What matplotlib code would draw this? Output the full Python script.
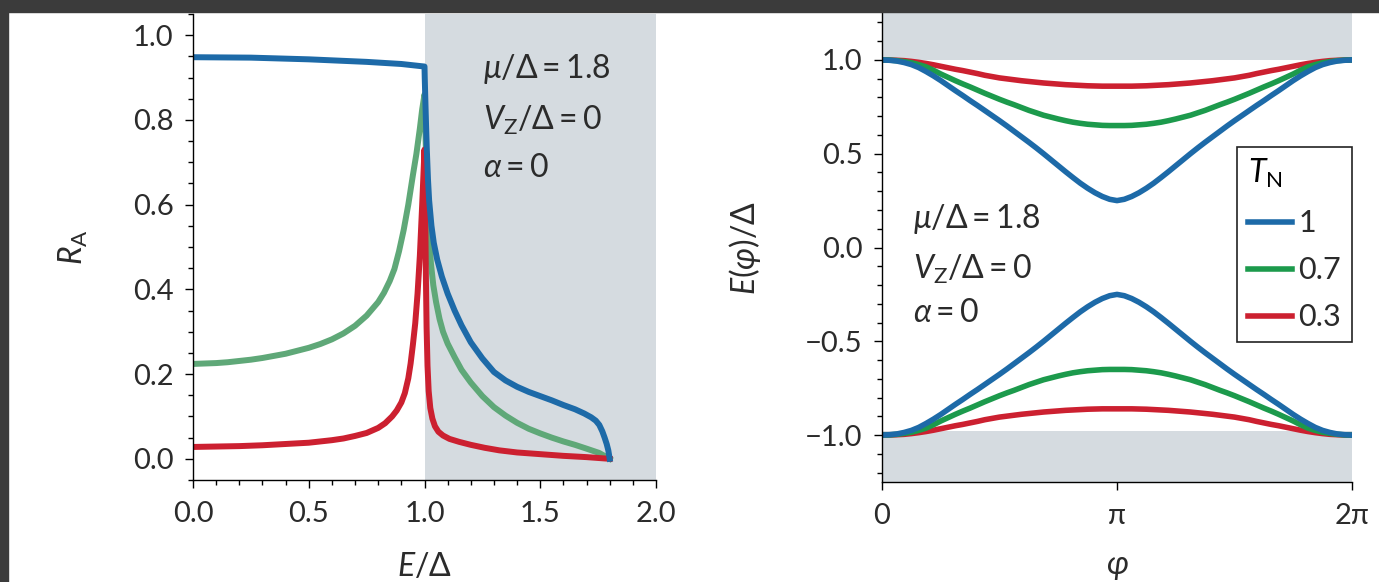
import matplotlib
matplotlib.use('Agg')
import matplotlib.pyplot as plt
from matplotlib.patches import Rectangle
from matplotlib.ticker import MultipleLocator
import numpy as np

plt.rcParams['font.family'] = ['Lato', 'DejaVu Sans']
plt.rcParams['mathtext.fontset'] = 'custom'
plt.rcParams['mathtext.rm'] = 'Lato'
plt.rcParams['mathtext.it'] = 'Lato:italic'
plt.rcParams['mathtext.bf'] = 'Lato:bold'
plt.rcParams['mathtext.fallback'] = 'stix'

# Andreev reflection probability R_A vs E/Delta
blue_E = [0.0, 0.25, 0.5, 0.75, 0.9, 1.0, 1.001, 1.003, 1.006, 1.01, 1.015, 1.02, 1.03, 1.04,
          1.055, 1.075, 1.1, 1.13, 1.16, 1.2, 1.25, 1.3, 1.35, 1.4, 1.45, 1.5, 1.55, 1.6,
          1.65, 1.69, 1.72, 1.74, 1.755, 1.768, 1.778, 1.787, 1.794, 1.8]
blue_RA = [0.948, 0.947, 0.943, 0.937, 0.932, 0.926, 0.90, 0.86, 0.80, 0.73, 0.66, 0.61, 0.55,
           0.51, 0.47, 0.43, 0.39, 0.35, 0.315, 0.275, 0.237, 0.205, 0.185, 0.17, 0.158,
           0.148, 0.138, 0.127, 0.117, 0.107, 0.098, 0.09, 0.08, 0.065, 0.05, 0.035, 0.02, 0.0]

green_E = [0.0, 0.05, 0.1, 0.15, 0.2, 0.25, 0.3, 0.35, 0.4, 0.45, 0.5, 0.55, 0.6, 0.65, 0.7,
           0.75, 0.8, 0.825, 0.85, 0.87, 0.89, 0.91, 0.93, 0.95, 0.965, 0.98, 0.99, 1.0,
           1.002, 1.005, 1.009, 1.014, 1.02, 1.028, 1.038, 1.05, 1.065, 1.08, 1.1, 1.13, 1.16,
           1.2, 1.25, 1.3, 1.35, 1.4, 1.45, 1.5, 1.55, 1.6, 1.65, 1.7, 1.754, 1.8]
green_RA = [0.224, 0.225, 0.226, 0.228, 0.231, 0.234, 0.238, 0.243, 0.248, 0.255, 0.262, 0.271,
            0.282, 0.296, 0.314, 0.338, 0.37, 0.392, 0.42, 0.448, 0.49, 0.54, 0.60, 0.67,
            0.72, 0.78, 0.825, 0.86, 0.82, 0.75, 0.67, 0.59, 0.52, 0.46, 0.41, 0.37, 0.33,
            0.30, 0.272, 0.24, 0.21, 0.18, 0.148, 0.122, 0.102, 0.085, 0.071, 0.06, 0.05,
            0.041, 0.033, 0.024, 0.014, 0.0]

red_E = [0.0, 0.1, 0.2, 0.3, 0.4, 0.5, 0.55, 0.6, 0.65, 0.7, 0.75, 0.8, 0.83, 0.86, 0.88, 0.9,
         0.915, 0.93, 0.94, 0.95, 0.96, 0.97, 0.98, 0.99, 1.0, 1.003, 1.006, 1.009, 1.013,
         1.018, 1.025, 1.034, 1.045, 1.06, 1.08, 1.108, 1.15, 1.2, 1.26, 1.323, 1.4, 1.5,
         1.6, 1.7, 1.8]
red_RA = [0.028, 0.029, 0.030, 0.032, 0.035, 0.038, 0.041, 0.044, 0.048, 0.054, 0.061, 0.073,
          0.084, 0.10, 0.114, 0.133, 0.155, 0.19, 0.225, 0.27, 0.32, 0.39, 0.48, 0.60, 0.73,
          0.58, 0.43, 0.31, 0.22, 0.16, 0.12, 0.095, 0.077, 0.064, 0.055, 0.047, 0.04, 0.033,
          0.026, 0.02, 0.015, 0.011, 0.007, 0.004, 0.0]

# Andreev bound state energies E(phi)/Delta for phi in [0, pi] (units of pi);
# the curves are symmetric about phi = pi
phi_half = [0.0, 0.03125, 0.0625, 0.09375, 0.125, 0.15625, 0.1875, 0.21875, 0.25, 0.28125,
            0.3125, 0.34375, 0.375, 0.40625, 0.4375, 0.46875, 0.5, 0.53125, 0.5625, 0.59375,
            0.625, 0.65625, 0.6875, 0.71875, 0.75, 0.78125, 0.8125, 0.84375, 0.875, 0.90625,
            0.9375, 0.96875, 1.0]
abs_T1 = [1.000, 0.998, 0.994, 0.986, 0.975, 0.959, 0.938, 0.915, 0.890, 0.863, 0.836, 0.810,
          0.783, 0.757, 0.730, 0.703, 0.676, 0.648, 0.619, 0.590, 0.561, 0.531, 0.500, 0.468,
          0.436, 0.404, 0.373, 0.343, 0.316, 0.292, 0.272, 0.257, 0.250]
abs_T07 = [1.000, 0.999, 0.996, 0.991, 0.985, 0.975, 0.963, 0.945, 0.925, 0.907, 0.889, 0.872,
           0.856, 0.839, 0.822, 0.806, 0.790, 0.775, 0.761, 0.746, 0.731, 0.718, 0.705, 0.695,
           0.685, 0.676, 0.668, 0.662, 0.657, 0.654, 0.651, 0.650, 0.650]
abs_T03 = [1.000, 0.9995, 0.998, 0.996, 0.992, 0.987, 0.981, 0.974, 0.966, 0.958, 0.950, 0.943,
           0.935, 0.927, 0.918, 0.911, 0.904, 0.899, 0.894, 0.889, 0.885, 0.881, 0.877, 0.874,
           0.871, 0.868, 0.866, 0.864, 0.862, 0.861, 0.860, 0.860, 0.860]
TN_labels = ['1', '0.7', '0.3']

params = [r'$\mu/\mathit{\Delta} = 1.8$', r'$V_\mathrm{Z}/\mathit{\Delta} = 0$', r'$\alpha = 0$']

c_blue = '#1d6aa8'
c_green_l = '#5fa878'
c_green = '#1c9a4c'
c_red = '#cc2030'
c_gray = '#d5dbe0'
c_text = '#2b2b2b'
fs = 21


def full_period(half):
    # mirror the 0..pi branch onto pi..2pi
    return list(half) + list(half[-2::-1])


def style_axes(ax):
    for s in ['top', 'right']:
        ax.spines[s].set_visible(False)
    for s in ['left', 'bottom']:
        ax.spines[s].set_linewidth(1.0)
    ax.tick_params(which='major', direction='out', length=6, width=1.0,
                   labelsize=fs, labelcolor=c_text)
    ax.tick_params(which='minor', direction='out', length=3.5, width=1.0)
    ax.tick_params(axis='x', pad=9)
    ax.tick_params(axis='y', pad=8)


fig = plt.figure(figsize=(13.79, 5.82), dpi=100)

# left panel
ax1 = fig.add_axes([193/1379, 102/582, 463/1379, 466/582])
ax1.axvspan(1.0, 2.0, color=c_gray, lw=0, zorder=0)
ax1.plot(green_E, green_RA, color=c_green_l, lw=4.3, solid_joinstyle='round')
ax1.plot(red_E, red_RA, color=c_red, lw=4.3, solid_joinstyle='round')
ax1.plot(blue_E, blue_RA, color=c_blue, lw=4.3, solid_joinstyle='round')
ax1.set_xlim(0, 2)
ax1.set_ylim(-0.05, 1.05)
ax1.xaxis.set_major_locator(MultipleLocator(0.5))
ax1.xaxis.set_minor_locator(MultipleLocator(0.1))
ax1.yaxis.set_major_locator(MultipleLocator(0.2))
ax1.yaxis.set_minor_locator(MultipleLocator(0.05))
style_axes(ax1)
ax1.set_xlabel(r'$E/\mathit{\Delta}$', fontsize=fs + 2, color=c_text)
ax1.set_ylabel(r'$R_\mathrm{A}$', fontsize=fs + 2, color=c_text)
ax1.xaxis.set_label_coords(0.5, -0.155)
ax1.yaxis.set_label_coords(-0.222, 0.5)
for txt, yy in zip(params, [0.863, 0.751, 0.650]):
    ax1.text(0.626, yy, txt, transform=ax1.transAxes, fontsize=fs + 2,
             color=c_text, va='baseline', ha='left')

# right panel
ax2 = fig.add_axes([882/1379, 100/582, 470/1379, 469/582])
phi = np.array(phi_half + [2 - p for p in phi_half[-2::-1]]) * np.pi
ax2.axhspan(1.0, 1.25, color=c_gray, lw=0, zorder=0)
ax2.axhspan(-1.25, -0.98, color=c_gray, lw=0, zorder=0)
lines = []
for half, col, lab in zip([abs_T03, abs_T07, abs_T1], [c_red, c_green, c_blue],
                          TN_labels[::-1]):
    vals = np.array(full_period(half))
    ln, = ax2.plot(phi, vals, color=col, lw=4.0, label=lab)
    ax2.plot(phi, -vals, color=col, lw=4.0)
    lines.append(ln)
ax2.set_xlim(0, 2 * np.pi)
ax2.set_ylim(-1.25, 1.25)
ax2.set_xticks([0, np.pi, 2 * np.pi])
ax2.set_xticklabels(['0', 'π', '2π'])
ax2.yaxis.set_major_locator(MultipleLocator(0.5))
ax2.yaxis.set_minor_locator(MultipleLocator(0.1))
style_axes(ax2)
ax2.set_xlabel(r'$\varphi$', fontsize=fs + 2, color=c_text)
ax2.set_ylabel(r'$E(\varphi)/\mathit{\Delta}$', fontsize=fs + 2, color=c_text)
ax2.xaxis.set_label_coords(0.5, -0.149)
ax2.yaxis.set_label_coords(-0.253, 0.5)
for txt, yy in zip(params, [0.542, 0.433, 0.341]):
    ax2.text(0.066, yy, txt, transform=ax2.transAxes, fontsize=fs + 2,
             color=c_text, va='baseline', ha='left')

leg = ax2.legend(handles=lines[::-1], title=r'$T_\mathrm{N}$', loc='upper right',
                 bbox_to_anchor=(1.0, 0.715), borderaxespad=0, fontsize=fs + 1,
                 title_fontsize=fs + 2, fancybox=False, framealpha=1,
                 edgecolor='#222222', handlelength=1.45, handletextpad=0.2,
                 labelspacing=0.62, borderpad=0.35, alignment='left')
leg.get_frame().set_linewidth(1.2)
for t in leg.get_texts():
    t.set_color(c_text)

# dark frame on top and left edges
fig.patches.append(Rectangle((0, 1 - 12/582), 1, 12/582, transform=fig.transFigure,
                             color='#3b3b3b', zorder=10))
fig.patches.append(Rectangle((0, 0), 8/1379, 1, transform=fig.transFigure,
                             color='#3b3b3b', zorder=10))

fig.savefig('out.png', dpi=100)
